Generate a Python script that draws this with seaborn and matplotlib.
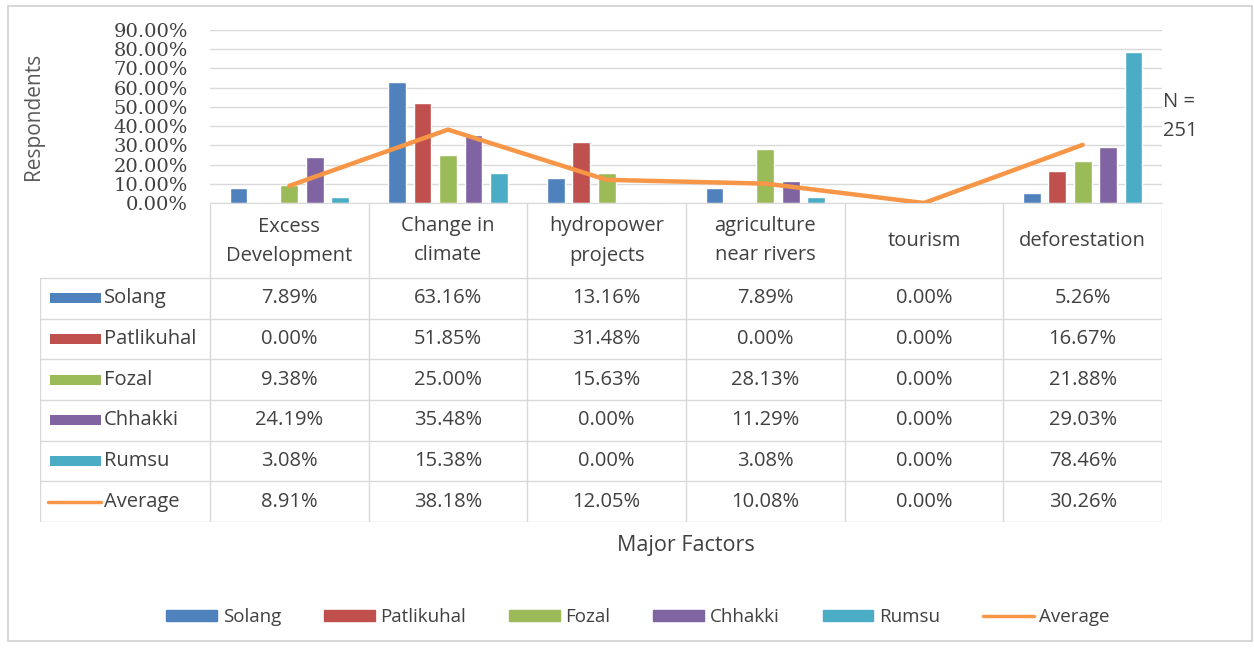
import numpy as np
import pandas as pd
import matplotlib.pyplot as plt
import seaborn as sns
from matplotlib.patches import Patch, Rectangle
from matplotlib.lines import Line2D

# data (percent of respondents)
factors = ['Excess\nDevelopment', 'Change in\nclimate', 'hydropower\nprojects',
           'agriculture\nnear rivers', 'tourism', 'deforestation']
sites = ['Solang', 'Patlikuhal', 'Fozal', 'Chhakki', 'Rumsu']
solang = [7.89, 63.16, 13.16, 7.89, 0.00, 5.26]
patlikuhal = [0.00, 51.85, 31.48, 0.00, 0.00, 16.67]
fozal = [9.38, 25.00, 15.63, 28.13, 0.00, 21.88]
chhakki = [24.19, 35.48, 0.00, 11.29, 0.00, 29.03]
rumsu = [3.08, 15.38, 0.00, 3.08, 0.00, 78.46]
average = [8.91, 38.18, 12.05, 10.08, 0.00, 30.26]
y_ticks = [0, 10, 20, 30, 40, 50, 60, 70, 80, 90]

colors = ['#4F81BD', '#C0504D', '#9BBB59', '#8064A2', '#4BACC6']
avg_color = '#F79646'
txt = '#404040'
grid = '#D9D9D9'

series = [solang, patlikuhal, fozal, chhakki, rumsu]
df = pd.DataFrame({
    'factor': np.repeat([factors], len(sites), axis=0).ravel(),
    'site': np.repeat(sites, len(factors)),
    'value': np.concatenate(series) / 100,
})
avg_df = pd.DataFrame({'factor': factors, 'value': np.array(average) / 100})

sns.set_style('white')
plt.rcParams['font.family'] = ['Open Sans', 'DejaVu Sans']

W, H = 1254, 651
fig = plt.figure(figsize=(W / 100, H / 100), dpi=100)

def px_axes(x0, y0, x1, y1):
    return fig.add_axes([x0 / W, 1 - y1 / H, (x1 - x0) / W, (y1 - y0) / H])

# outer frame
fig.patches.append(Rectangle((8 / W, 1 - 641 / H), (1252 - 8) / W, (641 - 6) / H,
                             transform=fig.transFigure, fill=False, ec='#D0D0D0', lw=1.2))

# bar chart area
ax = px_axes(210, 30, 1162, 203)
sns.barplot(data=df, x='factor', y='value', hue='site', order=factors, hue_order=sites,
            palette=colors, saturation=1, width=0.8, gap=0.3, legend=False, ax=ax, zorder=2)
sns.pointplot(data=avg_df, x='factor', y='value', order=factors, color=avg_color,
              marker='', linewidth=3.2, errorbar=None, ax=ax, zorder=3)
ax.set_ylim(0, 0.9)
ax.set_xlim(-0.5, 5.5)
ax.set_yticks(np.array(y_ticks) / 100)
ax.set_yticklabels([f'{t:.2f}%' for t in y_ticks], family='DejaVu Serif',
                   fontsize=14, color=txt)
ax.tick_params(axis='y', length=0, pad=16)
ax.set_xticks([])
ax.set_xlabel('')
ax.set_ylabel('Respondents', fontsize=15, color='#595959')
ax.yaxis.set_label_coords(-0.174, 0.5)
ax.grid(axis='y', color=grid, lw=1)
for s in ['top', 'right', 'left']:
    ax.spines[s].set_visible(False)
ax.spines['bottom'].set_color(grid)
ax.text(1.001, 0.50, 'N =\n251', transform=ax.transAxes, fontsize=14.5, color=txt,
        va='center', ha='left', linespacing=1.55)

# data table below
tx0, tx1, ty0, ty1 = 40, 1162, 203, 522
tax = px_axes(tx0, ty0, tx1, ty1)
tax.set_xlim(tx0, tx1)
tax.set_ylim(ty1, ty0)
tax.axis('off')
col_edges = np.linspace(210, 1162, len(factors) + 1)
row_edges = np.linspace(278, 522, len(sites) + 2)
for x in col_edges:
    tax.plot([x, x], [203, 522], color=grid, lw=1)
tax.plot([tx0, tx0], [278, 522], color=grid, lw=1)
for y in row_edges:
    tax.plot([tx0, tx1], [y, y], color=grid, lw=1)
for i, f in enumerate(factors):
    cx = (col_edges[i] + col_edges[i + 1]) / 2
    tax.text(cx, 241, f, ha='center', va='center', fontsize=14.5, color=txt, linespacing=1.6)

rows = series + [average]
labels = sites + ['Average']
for r, (lab, vals) in enumerate(zip(labels, rows)):
    cy = (row_edges[r] + row_edges[r + 1]) / 2
    if lab == 'Average':
        tax.plot([48, 101], [cy, cy], color=avg_color, lw=2.5)
    else:
        tax.add_patch(Rectangle((50, cy - 5), 51, 10, color=colors[r], lw=0))
    tax.text(104, cy, lab, ha='left', va='center', fontsize=14.5, color=txt)
    for i, v in enumerate(vals):
        cx = (col_edges[i] + col_edges[i + 1]) / 2
        tax.text(cx, cy, f'{v:.2f}%', ha='center', va='center', fontsize=14.5, color=txt)

fig.text(686 / W, 1 - 546 / H, 'Major Factors', ha='center', va='center',
         fontsize=15.5, color=txt)

handles = [Patch(color=c, label=s) for c, s in zip(colors, sites)]
handles.append(Line2D([0], [0], color=avg_color, lw=2.5, label='Average'))
fig.legend(handles=handles, loc='center', bbox_to_anchor=(638 / W, 1 - 617 / H), ncol=6,
           frameon=False, fontsize=13.5, handlelength=2.7, handleheight=0.55,
           handletextpad=0.3, columnspacing=2.3, labelcolor=txt)

fig.savefig('out.png', dpi=100)
